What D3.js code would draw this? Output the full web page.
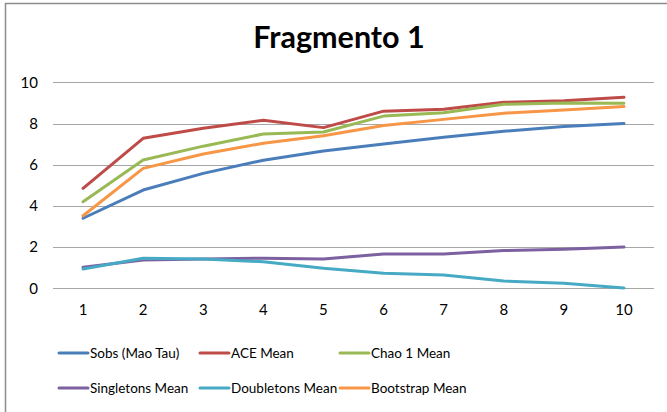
<!DOCTYPE html>
<html><head><meta charset="utf-8">
<script src="https://cdn.jsdelivr.net/npm/d3@7/dist/d3.min.js"></script>
<style>body{margin:0;background:#fff}svg{display:block}</style>
</head><body>
<script>
const categories = ["1","2","3","4","5","6","7","8","9","10"];
const yTicks = [0,2,4,6,8,10];
const seriesNames = ["Sobs (Mao Tau)","ACE Mean","Chao 1 Mean","Singletons Mean","Doubletons Mean","Bootstrap Mean"];
const sobs = [3.4,4.77,5.58,6.22,6.66,7.0,7.33,7.62,7.85,8.0];
const ace = [4.85,7.28,7.77,8.16,7.8,8.6,8.69,9.03,9.1,9.27];
const chao1 = [4.2,6.23,6.9,7.49,7.59,8.36,8.52,8.93,9.0,8.98];
const singletons = [1.02,1.37,1.42,1.46,1.42,1.67,1.67,1.83,1.89,2.0];
const doubletons = [0.94,1.46,1.42,1.29,0.97,0.73,0.65,0.35,0.24,0.02];
const bootstrap = [3.52,5.82,6.52,7.04,7.41,7.9,8.2,8.5,8.66,8.82];
const colors = ["#4A7EBB","#BE4B48","#98B954","#7D60A0","#46AAC5","#F79646"];

const series = [sobs, ace, chao1, singletons, doubletons, bootstrap];
const W = 667, H = 412;
const svg = d3.select("body").append("svg").attr("width", W).attr("height", H);
const font = "Lato, 'Liberation Sans', sans-serif";

// frame
svg.append("line").attr("x1",5.5).attr("x2",5.5).attr("y1",3).attr("y2",H).attr("stroke","#8c8c8c").attr("stroke-width",1.5);
svg.append("line").attr("x1",5).attr("x2",W).attr("y1",3.5).attr("y2",3.5).attr("stroke","#8c8c8c").attr("stroke-width",1.5);

const x = d3.scaleBand().domain(categories).range([53, 654]);
const y = d3.scaleLinear().domain([0,10]).range([288.3, 82.3]);

// gridlines
svg.append("g").selectAll("line").data(yTicks).join("line")
  .attr("x1",53).attr("x2",654)
  .attr("y1",d=>Math.round(y(d))+0.5).attr("y2",d=>Math.round(y(d))+0.5)
  .attr("stroke","#a6a6a6").attr("stroke-width",1);

// y axis labels
const yAxis = d3.axisLeft(y).tickValues(yTicks).tickSize(0).tickPadding(0);
const gy = svg.append("g").attr("transform","translate(38,0)").call(yAxis);
gy.select(".domain").remove();
gy.selectAll("text").attr("font-family",font).attr("font-size",15).attr("fill","#000");

// x axis labels
const xAxis = d3.axisBottom(x).tickSize(0).tickPadding(0);
const gx = svg.append("g").attr("transform","translate(0,304)").call(xAxis);
gx.select(".domain").remove();
gx.selectAll("text").attr("font-family",font).attr("font-size",15).attr("fill","#000");

// lines
const line = d3.line().x((d,i)=>x(categories[i])+x.bandwidth()/2).y(d=>y(d));
series.forEach((s,i)=>{
  svg.append("path").attr("d",line(s)).attr("fill","none")
    .attr("stroke",colors[i]).attr("stroke-width",3).attr("stroke-linejoin","round").attr("stroke-linecap","round");
});

// title
svg.append("text").attr("x",339).attr("y",48).attr("text-anchor","middle")
  .attr("font-family",font).attr("font-weight","bold").attr("font-size",30.5).attr("fill","#000").text("Fragmento 1");

// legend
const legX = [59,200,340], legY = [353,388];
seriesNames.forEach((n,i)=>{
  const lx = legX[i%3], ly = legY[Math.floor(i/3)];
  svg.append("line").attr("x1",lx).attr("x2",lx+29).attr("y1",ly).attr("y2",ly)
    .attr("stroke",colors[i]).attr("stroke-width",3).attr("stroke-linecap","round");
  svg.append("text").attr("x",lx+31).attr("y",ly+5).attr("font-family",font).attr("font-size",13.5).attr("fill","#000").text(n);
});
</script>
</body></html>
